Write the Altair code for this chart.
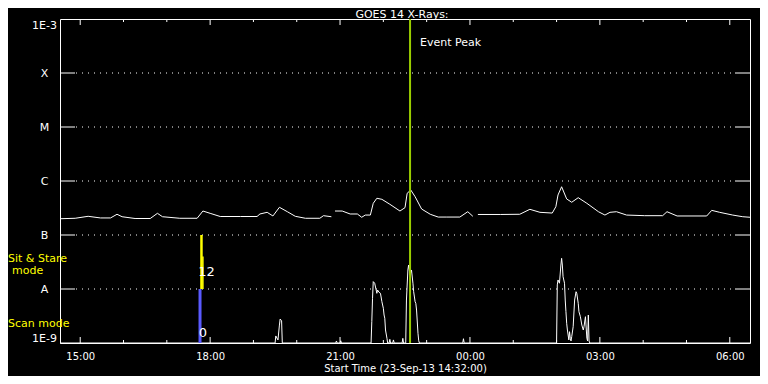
import json
import altair as alt
import pandas as pd

FONT = "DejaVu Sans"

# ---- long-wavelength channel (1-8 A), W/m^2 ----
long_times = [
    "2013-09-23T14:32", "2013-09-23T14:53", "2013-09-23T15:11", "2013-09-23T15:28", "2013-09-23T15:42",
    "2013-09-23T15:51", "2013-09-23T15:58", "2013-09-23T16:16", "2013-09-23T16:37", "2013-09-23T16:47",
    "2013-09-23T16:54", "2013-09-23T17:18", "2013-09-23T17:42", "2013-09-23T17:50", "2013-09-23T18:00",
    "2013-09-23T18:14", "2013-09-23T18:42", "2013-09-23T19:05", "2013-09-23T19:09", "2013-09-23T19:19",
    "2013-09-23T19:27", "2013-09-23T19:36", "2013-09-23T19:47", "2013-09-23T19:58", "2013-09-23T20:12",
    "2013-09-23T20:32", "2013-09-23T20:37", "2013-09-23T20:48",
    "2013-09-23T20:53", "2013-09-23T21:03", "2013-09-23T21:14", "2013-09-23T21:24", "2013-09-23T21:30",
    "2013-09-23T21:35", "2013-09-23T21:42", "2013-09-23T21:46", "2013-09-23T21:51", "2013-09-23T21:58",
    "2013-09-23T22:09", "2013-09-23T22:23", "2013-09-23T22:30", "2013-09-23T22:33", "2013-09-23T22:38",
    "2013-09-23T22:44", "2013-09-23T22:53", "2013-09-23T23:05", "2013-09-23T23:16", "2013-09-23T23:28",
    "2013-09-23T23:46", "2013-09-23T23:57", "2013-09-24T00:04",
    "2013-09-24T00:11", "2013-09-24T00:42", "2013-09-24T01:09", "2013-09-24T01:23", "2013-09-24T01:37",
    "2013-09-24T01:54", "2013-09-24T01:59", "2013-09-24T02:02", "2013-09-24T02:07", "2013-09-24T02:14",
    "2013-09-24T02:21", "2013-09-24T02:30", "2013-09-24T02:42", "2013-09-24T02:58", "2013-09-24T03:07",
    "2013-09-24T03:14", "2013-09-24T03:23", "2013-09-24T03:37", "2013-09-24T04:02", "2013-09-24T04:27",
    "2013-09-24T04:33", "2013-09-24T04:47", "2013-09-24T05:28", "2013-09-24T05:35", "2013-09-24T05:46",
    "2013-09-24T06:04", "2013-09-24T06:18", "2013-09-24T06:28",
]
long_flux = [
    2.00e-7, 2.04e-7, 2.22e-7, 2.07e-7, 2.07e-7,
    2.42e-7, 2.18e-7, 2.02e-7, 2.02e-7, 2.52e-7,
    2.18e-7, 2.04e-7, 2.04e-7, 2.78e-7, 2.52e-7,
    2.20e-7, 2.20e-7, 2.20e-7, 2.45e-7, 2.63e-7,
    2.25e-7, 3.26e-7, 2.70e-7, 2.22e-7, 2.04e-7,
    2.04e-7, 2.28e-7, 2.18e-7,
    2.78e-7, 2.78e-7, 2.45e-7, 2.45e-7, 2.13e-7,
    2.34e-7, 2.34e-7, 3.86e-7, 4.79e-7, 4.58e-7,
    3.71e-7, 2.78e-7, 3.21e-7, 5.92e-7, 6.81e-7,
    5.12e-7, 3.03e-7, 2.42e-7, 2.15e-7, 2.15e-7,
    2.15e-7, 2.70e-7, 2.22e-7,
    2.40e-7, 2.40e-7, 2.42e-7, 2.99e-7, 2.63e-7,
    2.55e-7, 3.34e-7, 5.51e-7, 7.83e-7, 4.65e-7,
    4.04e-7, 4.91e-7, 3.86e-7, 2.70e-7, 2.34e-7,
    2.63e-7, 2.70e-7, 2.34e-7, 2.28e-7, 2.28e-7,
    2.70e-7, 2.25e-7, 2.25e-7, 2.86e-7, 2.63e-7,
    2.34e-7, 2.18e-7, 2.13e-7,
]
# data gaps split the trace into three pieces (lengths 28, 23, 28)
long_seg = [0] * 28 + [1] * 23 + [2] * 28

# ---- short-wavelength channel (0.5-4 A), W/m^2 (5e-10 = below the plot floor) ----
FLOOR = 5e-10
short_times = [
    "2013-09-23T14:32", "2013-09-23T19:30", "2013-09-23T19:31", "2013-09-23T19:34", "2013-09-23T19:36",
    "2013-09-23T19:37", "2013-09-23T19:39", "2013-09-23T19:40",
    "2013-09-23T20:54", "2013-09-23T20:55", "2013-09-23T20:56",
    "2013-09-23T21:00", "2013-09-23T21:01", "2013-09-23T21:02",
    "2013-09-23T21:43", "2013-09-23T21:44", "2013-09-23T21:45", "2013-09-23T21:46", "2013-09-23T21:48",
    "2013-09-23T21:51", "2013-09-23T21:52", "2013-09-23T21:54", "2013-09-23T21:56", "2013-09-23T21:58",
    "2013-09-23T22:00", "2013-09-23T22:01", "2013-09-23T22:02", "2013-09-23T22:03", "2013-09-23T22:05",
    "2013-09-23T22:06", "2013-09-23T22:08", "2013-09-23T22:09", "2013-09-23T22:10", "2013-09-23T22:13",
    "2013-09-23T22:14", "2013-09-23T22:15", "2013-09-23T22:26", "2013-09-23T22:27", "2013-09-23T22:28",
    "2013-09-23T22:31", "2013-09-23T22:32", "2013-09-23T22:34", "2013-09-23T22:35", "2013-09-23T22:37",
    "2013-09-23T22:39", "2013-09-23T22:41", "2013-09-23T22:42", "2013-09-23T22:44", "2013-09-23T22:45",
    "2013-09-23T22:46", "2013-09-23T22:48", "2013-09-23T22:49", "2013-09-23T22:50",
    "2013-09-23T23:50", "2013-09-23T23:51", "2013-09-23T23:52",
    "2013-09-24T02:00", "2013-09-24T02:01", "2013-09-24T02:02", "2013-09-24T02:04", "2013-09-24T02:06",
    "2013-09-24T02:07", "2013-09-24T02:08", "2013-09-24T02:09", "2013-09-24T02:11", "2013-09-24T02:12",
    "2013-09-24T02:13", "2013-09-24T02:14", "2013-09-24T02:15", "2013-09-24T02:17", "2013-09-24T02:18",
    "2013-09-24T02:19", "2013-09-24T02:20", "2013-09-24T02:21", "2013-09-24T02:23", "2013-09-24T02:25",
    "2013-09-24T02:27", "2013-09-24T02:28", "2013-09-24T02:30", "2013-09-24T02:31", "2013-09-24T02:33",
    "2013-09-24T02:35", "2013-09-24T02:37", "2013-09-24T02:38", "2013-09-24T02:40", "2013-09-24T02:42",
    "2013-09-24T02:43", "2013-09-24T02:44", "2013-09-24T02:45", "2013-09-24T02:46",
    "2013-09-24T06:28",
]
short_flux = [
    FLOOR, FLOOR, 1.35e-9, 1.14e-9, 2.15e-9,
    2.78e-9, 2.59e-9, FLOOR,
    FLOOR, 1.09e-9, FLOOR,
    FLOOR, 1.10e-9, FLOOR,
    FLOOR, 2.48e-9, 6.73e-9, 1.37e-8, 1.28e-8,
    8.32e-9, 9.58e-9, 8.69e-9, 8.32e-9, 5.82e-9,
    4.39e-9, 3.30e-9, 2.87e-9, 1.74e-9, 1.22e-9,
    FLOOR, FLOOR, 1.17e-9, FLOOR, FLOOR,
    1.14e-9, FLOOR, FLOOR, 1.22e-9, FLOOR,
    FLOOR, 6.25e-9, 2.25e-8, 2.78e-8, 1.82e-8,
    2.25e-8, 1.28e-8, 8.91e-9, 5.82e-9, 5.43e-9,
    4.08e-9, 1.51e-9, 1.10e-9, FLOOR,
    FLOOR, 1.20e-9, FLOOR,
    FLOOR, 1.19e-8, 1.47e-8, 1.28e-8, 2.78e-8,
    3.70e-8, 2.78e-8, 1.69e-8, 1.28e-8, 6.25e-9,
    3.80e-9, 2.32e-9, 1.74e-9, 1.14e-9, 1.62e-9,
    1.22e-9, 1.09e-9, 1.31e-9, 2.00e-9, 6.25e-9,
    8.91e-9, 8.32e-9, 5.43e-9, 3.80e-9, 3.07e-9,
    2.15e-9, 1.74e-9, 2.00e-9, 3.07e-9, 1.22e-9,
    1.09e-9, 3.30e-9, 1.09e-9, FLOOR,
    FLOOR,
]

# ---- axes ----
y_tick_values = [1e-9, 1e-8, 1e-7, 1e-6, 1e-5, 1e-4, 1e-3]
y_tick_labels = ["1E-9", "A", "B", "C", "M", "X", "1E-3"]
class_levels = [1e-8, 1e-7, 1e-6, 1e-5, 1e-4]
x_label_hours = [(23, 15), (23, 18), (23, 21), (24, 0), (24, 3), (24, 6)]
x_tick_times = [
    "2013-09-23T15:00", "2013-09-23T16:00", "2013-09-23T17:00", "2013-09-23T18:00",
    "2013-09-23T19:00", "2013-09-23T20:00", "2013-09-23T21:00", "2013-09-23T22:00",
    "2013-09-23T23:00", "2013-09-24T00:00", "2013-09-24T01:00", "2013-09-24T02:00",
    "2013-09-24T03:00", "2013-09-24T04:00", "2013-09-24T05:00", "2013-09-24T06:00",
]
x_tick_major = [True, False, False, True, False, False, True, False,
                False, True, False, False, True, False, False, True]

# ---- title, event and mode annotations ----
chart_title = ["GOES 14 X-Rays:"]
event_time = ["2013-09-23T22:37"]
event_label = ["Event Peak"]
mode_times = ["2013-09-23T17:46", "2013-09-23T17:48", "2013-09-23T17:50"]
mode_lo = [1e-9, 1e-8, 1e-8]
mode_hi = [1e-8, 1e-7, 4e-8]
mode_color = ["#5a5aff", "#ffff00", "#ffff00"]
mode_width = [3, 2.5, 1.5]
mode_label_times = ["2013-09-23T17:55", "2013-09-23T17:50"]
mode_label_flux = [2.07e-8, 1.53e-9]
mode_labels = ["12", "0"]


def iso(s):
    return s + ":00Z"


df_long = pd.DataFrame({"t": [iso(s) for s in long_times], "flux": long_flux, "seg": long_seg})
df_short = pd.DataFrame({"t": [iso(s) for s in short_times], "flux": short_flux})
df_levels = pd.DataFrame({"flux": class_levels})
df_xt = pd.DataFrame({"t": [iso(s) for s in x_tick_times], "major": x_tick_major})
df_event = pd.DataFrame({"t": [iso(s) for s in event_time], "label": event_label})
df_mode = pd.DataFrame({"t": [iso(s) for s in mode_times], "lo": mode_lo, "hi": mode_hi,
                        "c": mode_color, "w": mode_width})
df_mlab = pd.DataFrame({"t": [iso(s) for s in mode_label_times], "flux": mode_label_flux,
                        "label": mode_labels})

W, H = 690, 324

xscale = alt.Scale(
    type="utc",
    domain=[alt.DateTime(year=2013, month=9, date=23, hours=14, minutes=32, utc=True),
            alt.DateTime(year=2013, month=9, date=24, hours=6, minutes=28, utc=True)],
)
yscale = alt.Scale(type="log", domain=[1e-9, 1e-3], clamp=True)

label_map = "[" + ",".join(json.dumps(s) for s in y_tick_labels) + "]"
yaxis = alt.Axis(
    values=y_tick_values,
    labelExpr=f"{label_map}[round(log(datum.value)/LN10)+9]",
    ticks=False, tickSize=0, domain=False, grid=False,
    labelAlign="center", labelPadding=16, labelFlush=True,
    labelColor="white", labelFont=FONT, labelFontSize=11, title=None,
)
xaxis = alt.Axis(
    values=[alt.DateTime(year=2013, month=9, date=d, hours=h, minutes=0, utc=True) for d, h in x_label_hours],
    labelExpr="utcFormat(datum.value, '%H:%M')",
    ticks=False, tickSize=0, domain=False, grid=False,
    labelColor="white", labelFont=FONT, labelFontSize=10, labelPadding=8,
    title="Start Time (23-Sep-13 14:32:00)", titleColor="white", titleFont=FONT,
    titleFontSize=10, titleFontWeight="normal", titlePadding=2,
)

X = alt.X("t:T", scale=xscale, axis=xaxis)


def Y(field):
    return alt.Y(field, scale=yscale, axis=yaxis)


grid = alt.Chart(df_levels).mark_rule(color="white", strokeDash=[1, 5], strokeWidth=1).encode(
    y=Y("flux:Q"), x=alt.value(16), x2=alt.value(W - 16))
lticks = alt.Chart(df_levels).mark_rule(color="white").encode(
    y=Y("flux:Q"), x=alt.value(0), x2=alt.value(15))
rticks = alt.Chart(df_levels).mark_rule(color="white").encode(
    y=Y("flux:Q"), x=alt.value(W - 15), x2=alt.value(W))

xt_base = alt.Chart(df_xt).mark_rule(color="white")
top_major = xt_base.transform_filter("datum.major").encode(x=X, y=alt.value(0), y2=alt.value(6))
top_minor = xt_base.transform_filter("!datum.major").encode(x=X, y=alt.value(0), y2=alt.value(3))
bot_major = xt_base.transform_filter("datum.major").encode(x=X, y=alt.value(H - 6), y2=alt.value(H))
bot_minor = xt_base.transform_filter("!datum.major").encode(x=X, y=alt.value(H - 3), y2=alt.value(H))

long_line = alt.Chart(df_long).mark_line(color="white", strokeWidth=1).encode(
    x=X, y=Y("flux:Q"), detail="seg:N")
short_line = alt.Chart(df_short).mark_line(color="white", strokeWidth=1).encode(
    x=X, y=Y("flux:Q"))

modes = alt.Chart(df_mode).mark_rule().encode(
    x=X, y=Y("lo:Q"), y2="hi:Q",
    color=alt.Color("c:N", scale=None), strokeWidth=alt.StrokeWidth("w:Q", scale=None))
mode_text = alt.Chart(df_mlab).mark_text(color="white", font=FONT, fontSize=13, align="center",
                                         baseline="middle").encode(
    x=X, y=Y("flux:Q"), text="label:N")

event_rule = alt.Chart(df_event).mark_rule(color="#9acd00", strokeWidth=2).encode(
    x=X, y=alt.value(0), y2=alt.value(H))
event_text = alt.Chart(df_event).mark_text(color="white", font=FONT, fontSize=11, align="left",
                                           baseline="middle", dx=10).encode(
    x=X, y=alt.value(24), text="label:N")

title_text = alt.Chart(pd.DataFrame({"label": chart_title})).mark_text(
    color="white", font=FONT, fontSize=11, align="center", baseline="alphabetic").encode(
    x=alt.value(W / 2 - 3), y=alt.value(-1), text="label:N")

sit_text = alt.Chart(pd.DataFrame({"label": ["Sit & Stare"]})).mark_text(
    color="#ffff00", font=FONT, fontSize=11, align="left", baseline="middle").encode(
    x=alt.value(-52), y=alt.value(240), text="label:N")
mode_word = alt.Chart(pd.DataFrame({"label": ["mode"]})).mark_text(
    color="#ffff00", font=FONT, fontSize=11, align="left", baseline="middle").encode(
    x=alt.value(-48), y=alt.value(252), text="label:N")
scan_text = alt.Chart(pd.DataFrame({"label": ["Scan mode"]})).mark_text(
    color="#ffff00", font=FONT, fontSize=11, align="left", baseline="middle").encode(
    x=alt.value(-52), y=alt.value(305), text="label:N")

chart = alt.layer(
    grid, lticks, rticks, top_major, top_minor, bot_major, bot_minor,
    long_line, short_line, modes, mode_text, event_rule, event_text,
    title_text, sit_text, mode_word, scan_text,
).properties(
    width=W, height=H,
    autosize=alt.AutoSizeParams(type="none"),
    padding={"left": 52, "top": 11, "right": 10, "bottom": 33},
    background="black",
).configure_view(stroke="white", strokeWidth=1)

chart.save("out.html", embed_options={"renderer": "svg", "actions": False})
